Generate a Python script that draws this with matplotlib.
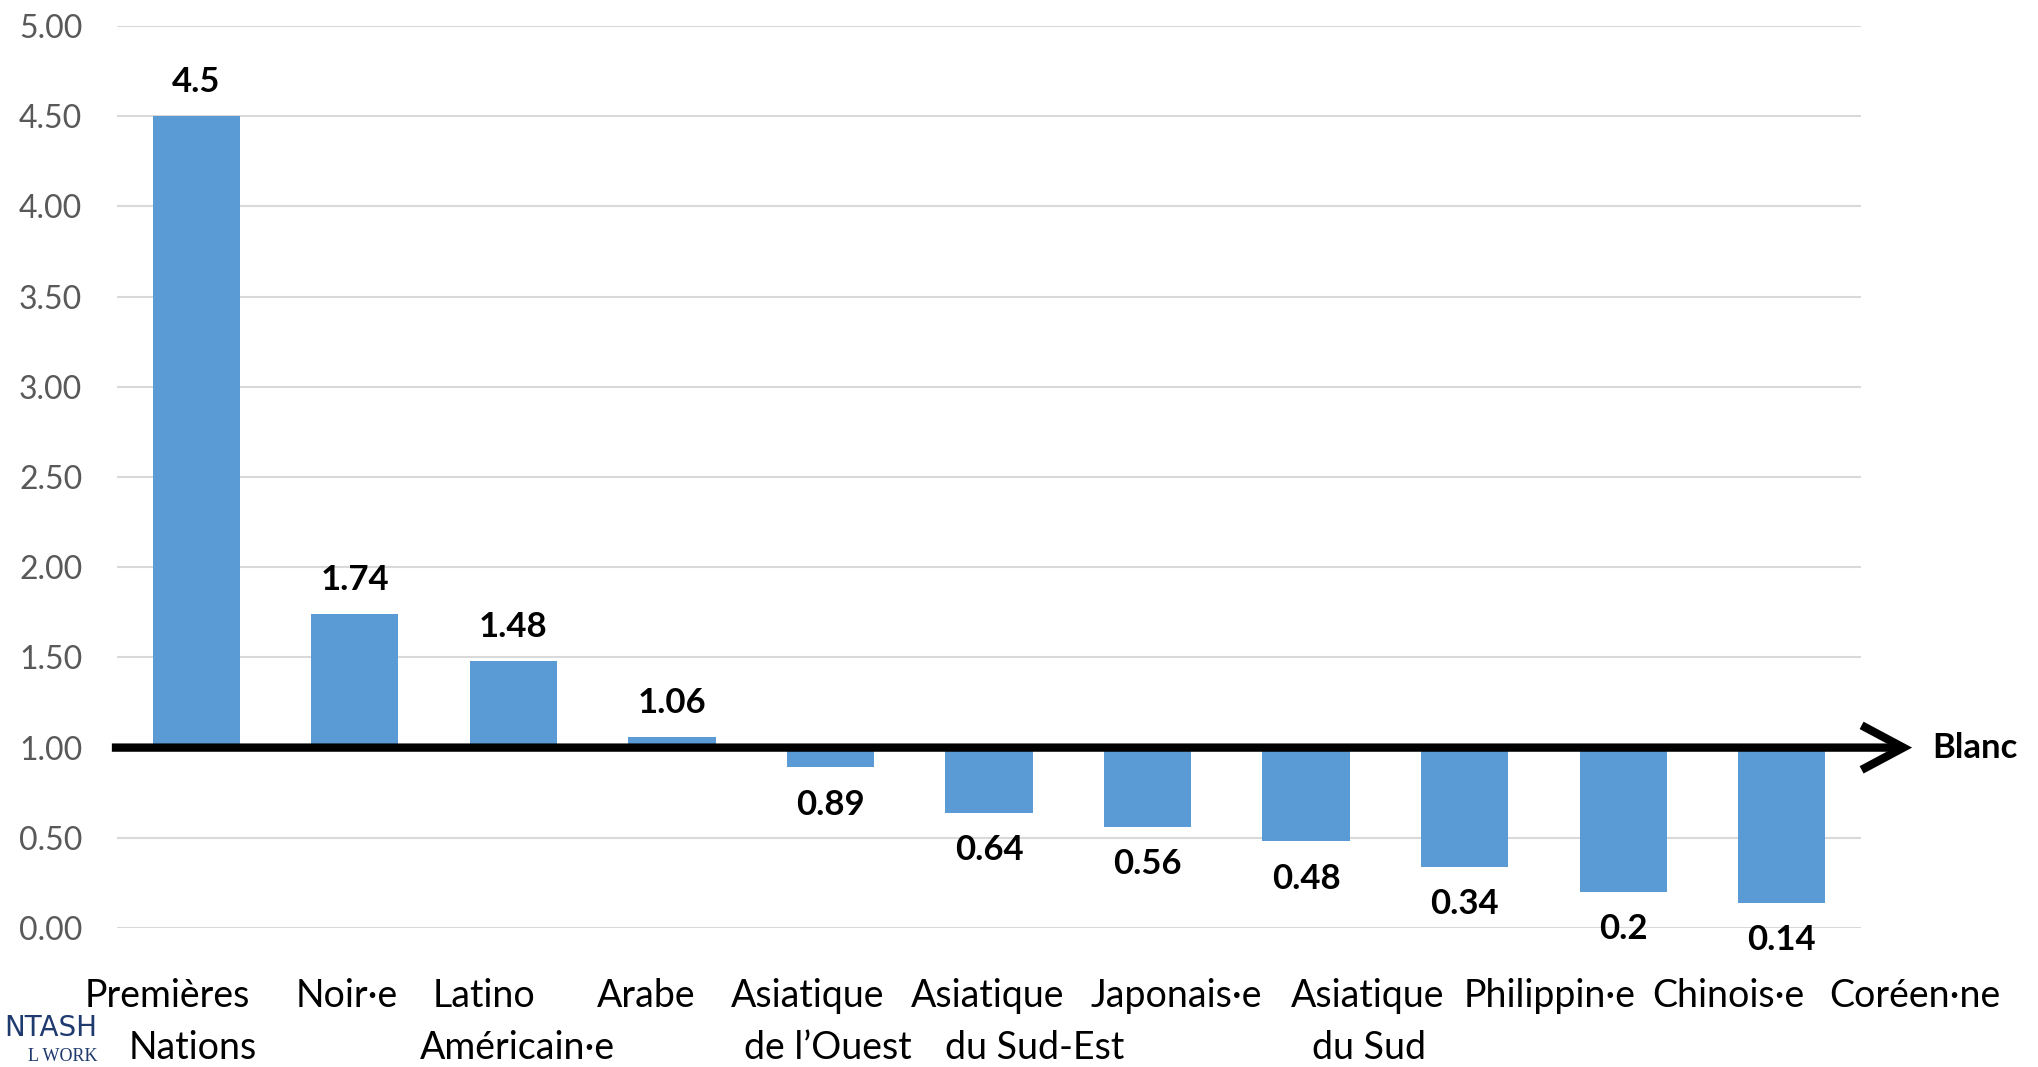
import numpy as np
import matplotlib.pyplot as plt

# rapports par rapport au groupe Blanc (= 1.0)
groupes = ['Premières Nations', 'Noir·e', 'Latino Américain·e', 'Arabe',
           "Asiatique de l’Ouest", 'Asiatique du Sud-Est', 'Japonais·e',
           'Asiatique du Sud', 'Philippin·e', 'Chinois·e', 'Coréen·ne']
valeurs = [4.5, 1.74, 1.48, 1.06, 0.89, 0.64, 0.56, 0.48, 0.34, 0.2, 0.14]
base = 1.0

# étiquettes du bas (deux lignes, placées comme dans l'original)
ligne1 = ['Premières', 'Noir·e', 'Latino', 'Arabe', 'Asiatique', 'Asiatique',
          'Japonais·e', 'Asiatique', 'Philippin·e', 'Chinois·e', 'Coréen·ne']
ligne1_x = [129, 267, 372, 497, 621, 760, 905, 1052, 1192, 1330, 1473]
ligne2 = ['Nations', 'Américain·e', "de l’Ouest", 'du Sud-Est', 'du Sud']
ligne2_x = [148, 398, 637, 796, 1053]

plt.rcParams['font.family'] = ['Lato', 'DejaVu Sans']

fig = plt.figure(figsize=(20.38, 10.67), dpi=100)
ax = fig.add_axes([117/2038, 1 - 928/1067, 1744/2038, 902/1067])

x = np.arange(len(valeurs))
hauteurs = [v - base for v in valeurs]
ax.bar(x, hauteurs, bottom=base, width=0.55, color='#5B9BD5', zorder=2)

for xi, v in zip(x, valeurs):
    if v >= base:
        ax.annotate(str(v), (xi, v), xytext=(0, 24.5), textcoords='offset points',
                    ha='center', va='center', fontsize=25, fontweight='bold')
    else:
        ax.annotate(str(v), (xi, v), xytext=(0, -27), textcoords='offset points',
                    ha='center', va='center', fontsize=25, fontweight='bold')

ax.set_xlim(-0.5, len(valeurs) - 0.5)
ax.set_ylim(0, 5)
ax.set_yticks(np.arange(0, 5.01, 0.5))
ax.set_yticklabels(['%.2f' % t for t in np.arange(0, 5.01, 0.5)])
ax.tick_params(axis='y', length=0, pad=25, labelsize=23, labelcolor='#595959')
ax.set_xticks([])
ax.grid(axis='y', color='#D9D9D9', linewidth=1.5, zorder=0)
ax.set_axisbelow(True)
for s in ax.spines.values():
    s.set_visible(False)

# flèche de référence Blanc
ax.annotate('', xy=(10.84, base), xytext=(-0.55, base), annotation_clip=False,
            arrowprops=dict(arrowstyle='->,head_length=3.0,head_width=1.6',
                            lw=6, color='black', joinstyle='miter',
                            capstyle='butt'), zorder=3)
ax.text(10.95, base, 'Blanc', ha='left', va='center', fontsize=25,
        fontweight='bold', clip_on=False)

for t, px in zip(ligne1, ligne1_x):
    fig.text(px / 1568, 1 - 766/821, t, ha='center', va='center', fontsize=27)
for t, px in zip(ligne2, ligne2_x):
    fig.text(px / 1568, 1 - 806/821, t, ha='center', va='center', fontsize=27)

# logo (partie visible) en bas à gauche
fig.text(75/1568, 1 - 791/821, 'NTASH', ha='right', va='center', fontsize=20,
         color='#1F3A6E', family=['Liberation Sans Narrow', 'DejaVu Sans'])
fig.text(75/1568, 1 - 813/821, 'L WORK', ha='right', va='center', fontsize=13,
         color='#1F3A6E', family=['Liberation Serif', 'DejaVu Serif'])

fig.savefig('out.png', dpi=100)
